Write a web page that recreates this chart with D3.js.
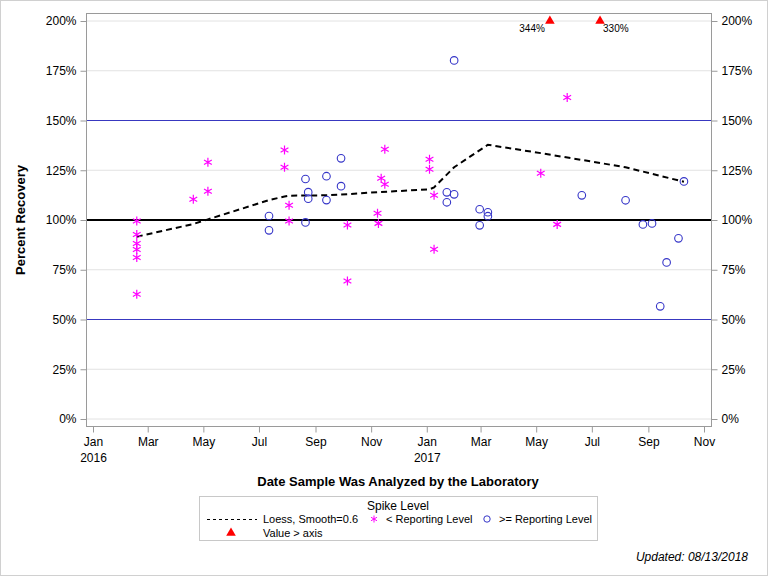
<!doctype html>
<html>
  <head>
    <script src="https://cdn.jsdelivr.net/npm/d3@7"></script>
    <style>
      body { margin: 0; background: #fff; }
      text { font-family: "Liberation Sans", Arial, sans-serif; fill: #000; }
      .tick line { stroke: #9a9a9a; }
    </style>
  </head>
  <body>
    <div id="my_dataviz"></div>
    <script>
      // data
      var belowDates = ["2016-02-18","2016-02-18","2016-02-18","2016-02-18","2016-02-18","2016-02-18",
        "2016-04-20","2016-05-06","2016-05-06","2016-07-29","2016-07-29","2016-08-03","2016-08-03",
        "2016-10-06","2016-10-06","2016-11-08","2016-11-09","2016-11-12","2016-11-16","2016-11-16",
        "2017-01-04","2017-01-04","2017-01-09","2017-01-09","2017-05-06","2017-05-24","2017-06-04"];
      var belowValues = [99.5, 92.7, 88.2, 85.2, 81.2, 62.7,
        110.4, 129, 114.4, 135.2, 126.5, 107.4, 99.5,
        97.5, 69.3, 103.4, 98.3, 121, 118, 135.5,
        130.5, 125.5, 112.4, 85.3, 123.5, 97.8, 161.6];

      var aboveDates = ["2016-07-12","2016-07-12","2016-08-21","2016-08-21","2016-08-24","2016-08-24",
        "2016-09-13","2016-09-13","2016-09-29","2016-09-29","2017-01-23","2017-01-23","2017-01-31","2017-01-31",
        "2017-02-28","2017-02-28","2017-03-09","2017-03-09","2017-06-20","2017-08-07","2017-08-26",
        "2017-09-05","2017-09-14","2017-09-21","2017-10-04","2017-10-10"];
      var aboveValues = [102, 94.8, 98.8, 120.6, 114, 110.7,
        122, 110, 117, 131, 113.9, 108.9, 112.9, 180.2,
        105.4, 97.3, 103.9, 101.9, 112.4, 109.9, 97.8,
        98.3, 56.6, 78.7, 90.8, 119.4];

      var overDates = ["2017-05-16", "2017-07-10"];
      var overValues = [344, 330];

      var loessDates = ["2016-02-18","2016-04-20","2016-05-06","2016-07-12","2016-07-29","2016-08-03",
        "2016-08-21","2016-09-13","2016-10-06","2016-11-08","2017-01-04","2017-01-09","2017-01-31",
        "2017-03-09","2017-05-06","2017-06-20","2017-08-07","2017-09-05","2017-10-10"];
      var loessValues = [91.6, 98, 100.3, 110, 111.8, 112.2,
        112.3, 112.4, 113, 114, 115.4, 116.4, 126.5,
        137.8, 133.6, 130.2, 126.5, 123.2, 119.2];

      var yTicks = [0, 25, 50, 75, 100, 125, 150, 175, 200];
      var refLines = [50, 100, 150];

      var parse = d3.timeParse("%Y-%m-%d");
      var W = 768, H = 576;
      var frame = {left: 86, right: 711, top: 13, bottom: 426};

      var svg = d3.select("#my_dataviz").append("svg")
        .attr("width", W).attr("height", H);

      // outer border
      svg.append("rect").attr("x", 0.5).attr("y", 0.5)
        .attr("width", W - 1).attr("height", H - 1)
        .style("fill", "none").style("stroke", "#d0d0d0");

      var x = d3.scaleTime()
        .domain([parse("2016-01-01"), parse("2017-11-01")])
        .range([93, 704]);
      var y = d3.scaleLinear().domain([0, 200]).range([419, 21]);

      // gridlines
      svg.selectAll("myGrid").data(yTicks).enter().append("line")
        .attr("x1", frame.left).attr("x2", frame.right)
        .attr("y1", function(d) { return y(d); }).attr("y2", function(d) { return y(d); })
        .style("stroke", "#e2e2e2");

      // reference lines
      svg.selectAll("myRef").data(refLines).enter().append("line")
        .attr("x1", frame.left).attr("x2", frame.right)
        .attr("y1", function(d) { return y(d); }).attr("y2", function(d) { return y(d); })
        .style("stroke", function(d) { return d == 100 ? "#000" : "#3838c0"; })
        .style("stroke-width", function(d) { return d == 100 ? 2 : 1; });

      // frame
      svg.append("rect")
        .attr("x", frame.left + 0.5).attr("y", frame.top + 0.5)
        .attr("width", frame.right - frame.left).attr("height", frame.bottom - frame.top)
        .style("fill", "none").style("stroke", "#9a9a9a");

      // y axes
      var fmt = function(d) { return d + "%"; };
      var yl = svg.append("g").attr("transform", "translate(" + (frame.left + 0.5) + ",0)")
        .call(d3.axisLeft(y).tickValues(yTicks).tickFormat(fmt).tickSizeOuter(0).tickSize(6).tickPadding(4));
      var yr = svg.append("g").attr("transform", "translate(" + (frame.right + 0.5) + ",0)")
        .call(d3.axisRight(y).tickValues(yTicks).tickFormat(fmt).tickSizeOuter(0).tickSize(6).tickPadding(4));
      [yl, yr].forEach(function(g) {
        g.select(".domain").remove();
        g.selectAll("text").style("font-size", "12px").attr("font-family", null);
      });

      // x axis
      var xTicks = d3.timeMonth.range(parse("2016-01-01"), parse("2017-11-02"), 2);
      var xa = svg.append("g").attr("transform", "translate(0," + (frame.bottom + 0.5) + ")")
        .call(d3.axisBottom(x).tickValues(xTicks).tickSize(6).tickSizeOuter(0).tickPadding(5)
          .tickFormat(d3.timeFormat("%b")));
      xa.select(".domain").remove();
      xa.selectAll("text").style("font-size", "12px").attr("font-family", null);
      xa.selectAll(".tick").filter(function(d) { return d.getMonth() == 0; })
        .append("text").attr("y", 27).attr("dy", "0.71em")
        .style("font-size", "12px").style("text-anchor", "middle")
        .text(function(d) { return d.getFullYear(); });

      // titles
      svg.append("text").attr("x", 398).attr("y", 486)
        .style("text-anchor", "middle").style("font-weight", "bold").style("font-size", "13px")
        .text("Date Sample Was Analyzed by the Laboratory");
      svg.append("text").attr("transform", "translate(25,220) rotate(-90)")
        .style("text-anchor", "middle").style("font-weight", "bold").style("font-size", "13px")
        .text("Percent Recovery");

      // loess line
      var loess = loessDates.map(function(d, i) { return [parse(d), loessValues[i]]; });
      svg.append("path")
        .attr("d", d3.line().x(function(d) { return x(d[0]); }).y(function(d) { return y(d[1]); })(loess))
        .style("fill", "none").style("stroke", "#000").style("stroke-width", 2)
        .style("stroke-dasharray", "6,4");

      // star marker
      function starPath(r) {
        var a = r * Math.cos(Math.PI / 6), b = r * 0.5;
        return "M0," + (-r) + "V" + r +
          "M" + (-a) + "," + (-b) + "L" + a + "," + b +
          "M" + (-a) + "," + b + "L" + a + "," + (-b);
      }

      var below = belowDates.map(function(d, i) { return [parse(d), belowValues[i]]; });
      svg.selectAll("myStar").data(below).enter().append("path")
        .attr("transform", function(d) { return "translate(" + x(d[0]) + "," + y(d[1]) + ")"; })
        .attr("d", starPath(4.5))
        .style("fill", "none").style("stroke", "#ff00ff").style("stroke-width", 1.2);

      var above = aboveDates.map(function(d, i) { return [parse(d), aboveValues[i]]; });
      svg.selectAll("myCircle").data(above).enter().append("circle")
        .attr("cx", function(d) { return x(d[0]); })
        .attr("cy", function(d) { return y(d[1]); })
        .attr("r", 3.8)
        .style("fill", "none").style("stroke", "#3535c8").style("stroke-width", 1.1);

      // values beyond the axis
      var over = overDates.map(function(d, i) { return [parse(d), overValues[i]]; });
      var tri = d3.symbol().type(d3.symbolTriangle).size(40);
      svg.selectAll("myOver").data(over).enter().append("path")
        .attr("transform", function(d) { return "translate(" + x(d[0]) + "," + y(200) + ")"; })
        .attr("d", tri).style("fill", "#ff0000");
      svg.selectAll("myOverLabel").data(over).enter().append("text")
        .attr("x", function(d, i) { return x(d[0]) + (i == 0 ? -5 : 3); })
        .attr("y", 32)
        .style("font-size", "10px")
        .style("text-anchor", function(d, i) { return i == 0 ? "end" : "start"; })
        .text(function(d) { return d[1] + "%"; });

      // legend
      var lg = svg.append("g");
      lg.append("rect").attr("x", 199.5).attr("y", 496.5).attr("width", 398).attr("height", 44)
        .style("fill", "none").style("stroke", "#c8c8c8");
      lg.append("text").attr("x", 398).attr("y", 510).style("text-anchor", "middle")
        .style("font-size", "12px").text("Spike Level");
      lg.append("line").attr("x1", 207).attr("x2", 257).attr("y1", 519.5).attr("y2", 519.5)
        .style("stroke", "#000").style("stroke-dasharray", "3,3");
      lg.append("text").attr("x", 263).attr("y", 523).style("font-size", "11px").text("Loess, Smooth=0.6");
      lg.append("path").attr("transform", "translate(374,519)").attr("d", starPath(3.5))
        .style("fill", "none").style("stroke", "#ff00ff");
      lg.append("text").attr("x", 386).attr("y", 523).style("font-size", "11px").text("< Reporting Level");
      lg.append("circle").attr("cx", 487).attr("cy", 519).attr("r", 3.2)
        .style("fill", "none").style("stroke", "#3535c8");
      lg.append("text").attr("x", 499).attr("y", 523).style("font-size", "11px").text(">= Reporting Level");
      lg.append("path").attr("transform", "translate(231,533)").attr("d", tri)
        .style("fill", "#ff0000");
      lg.append("text").attr("x", 263).attr("y", 537).style("font-size", "11px").text("Value > axis");

      svg.append("text").attr("x", 748).attr("y", 561).style("text-anchor", "end")
        .style("font-style", "italic").style("font-size", "12px").text("Updated: 08/13/2018");
    </script>
  </body>
</html>
